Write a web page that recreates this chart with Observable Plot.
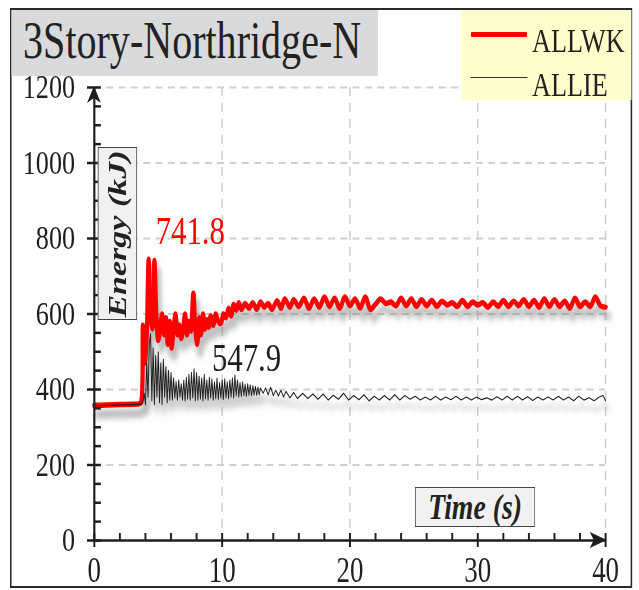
<!DOCTYPE html>
<html><head><meta charset="utf-8">
<script src="https://cdn.jsdelivr.net/npm/d3@7"></script>
<script src="https://cdn.jsdelivr.net/npm/@observablehq/plot@0.6"></script>
<style>
body{margin:0;background:#fff;}
#page{position:relative;width:639px;height:590px;overflow:hidden;background:#fff;}
#wrap{position:absolute;left:0;top:0;width:830px;height:590px;transform:scale(0.77,1);transform-origin:0 0;font-family:"Liberation Serif","Times New Roman",serif;color:#222;}
#chart{position:absolute;left:0;top:0;}
.abs{position:absolute;box-sizing:border-box;}
#frame{left:13px;top:8px;width:808px;height:580px;border:2px solid #2a2a2a;}
#title{left:15px;top:10px;width:476px;height:66px;background:#d9dadc;}
#titletext{position:absolute;left:15px;top:6px;height:50px;font-size:52px;line-height:50px;white-space:nowrap;}
#legend{left:599px;top:10px;width:221px;height:90px;background:#ffffcc;}
.lgline{position:absolute;left:12px;width:74px;}
.lgtext{position:absolute;left:92px;font-size:34px;line-height:34px;white-space:nowrap;}
#ylab{left:127px;top:147px;width:51px;height:173px;background:#f1f1f1;border:1.5px solid #444;}
#ylab span{position:absolute;left:50%;top:50%;transform:translate(-50%,-50%) rotate(-90deg);font-weight:bold;font-style:italic;font-size:34px;white-space:nowrap;}
#xlab{left:539px;top:487px;width:156px;height:40px;background:#f1f1f1;border:1.5px solid #444;font-weight:bold;font-style:italic;font-size:36px;line-height:38px;text-align:center;white-space:nowrap;}
</style></head>
<body>
<div id="page"><div id="wrap">
<div id="chart"></div>
<div class="abs" id="frame"></div>
<div class="abs" id="title"><div id="titletext"></div></div>
<div class="abs" id="legend"></div>
<div class="abs" id="ylab"><span></span></div>
<div class="abs" id="xlab"></div>
</div></div>
<script>
// ---------- data ----------
const titleText = "3Story-Northridge-N";
const seriesNames = ["ALLWK", "ALLIE"];
const xLabel = "Time (s)";
const yLabel = "Energy (kJ)";
const xTicks = [0, 10, 20, 30, 40];
const yTicks = [0, 200, 400, 600, 800, 1000, 1200];
const xMinorStep = 2;
const yMinorStep = 50;

const timeWK = [0,1,2,3,3.5,3.65,3.8,3.95,4.1,4.25,4.4,4.55,4.7,4.85,5.0,5.15,5.3,5.45,5.6,5.75,5.9,6.05,6.2,6.35,6.5,6.65,6.8,6.95,7.1,7.25,7.4,7.55,7.75,7.9,8.05,8.2,8.35,8.5,8.65,8.8,8.95,9.1,9.3,9.5,9.7,9.9,10.1,10.3,10.5,10.7,10.9,11.1,11.3,11.5,11.8,12.1,12.4,12.7,13.0,13.3,13.6,13.9,14.3,14.6,14.9,15.3,15.6,16.0,16.4,16.8,17.2,17.6,18.0,18.4,18.8,19.2,19.6,20.0,20.4,20.8,21.2,21.6,22.0,22.4,22.8,23.2,23.6,24.0,24.4,24.8,25.2,25.6,26.0,26.4,26.8,27.2,27.6,28.0,28.4,28.8,29.2,29.6,30.0,30.4,30.8,31.2,31.6,32.0,32.4,32.8,33.2,33.6,34.0,34.4,34.8,35.2,35.6,36.0,36.4,36.8,37.2,37.6,38.0,38.4,38.8,39.2,39.6,40.0];
const allwk = [358,359,360,361,362,366,570,470,540,745,590,560,741.8,600,530,560,600,545,590,520,580,510,560,600,545,570,535,560,600,545,580,555,655,560,520,590,545,600,560,585,565,595,570,600,580,575,600,590,615,595,625,610,630,612,628,615,630,612,632,618,628,612,635,615,640,618,638,620,642,615,640,618,645,620,642,615,645,622,640,616,645,612,626,640,628,632,622,642,622,640,620,638,622,636,620,634,624,630,620,636,620,632,624,630,618,632,620,636,620,634,622,638,620,636,618,640,620,638,620,634,615,642,620,632,620,645,622,618];

const timeIE = [0,1,2,3,3.5,3.7,3.8,3.9,4.0,4.1,4.2,4.3,4.4,4.5,4.6,4.7,4.8,4.9,5.0,5.1,5.2,5.3,5.4,5.5,5.6,5.7,5.8,5.9,6.0,6.1,6.2,6.3,6.4,6.5,6.6,6.7,6.8,6.9,7.0,7.1,7.2,7.3,7.4,7.5,7.6,7.7,7.8,7.9,8.0,8.1,8.2,8.3,8.4,8.5,8.6,8.7,8.8,8.9,9.0,9.1,9.2,9.3,9.4,9.5,9.6,9.7,9.8,9.9,10.0,10.1,10.2,10.3,10.4,10.5,10.6,10.7,10.8,10.9,11.0,11.1,11.2,11.3,11.4,11.5,11.6,11.7,11.8,11.9,12.0,12.1,12.2,12.3,12.4,12.5,12.6,12.7,12.8,12.9,13.0,13.2,13.4,13.6,13.8,14.0,14.2,14.4,14.6,14.8,15.0,15.3,15.6,15.9,16.3,16.7,17.1,17.5,17.9,18.3,18.7,19.1,19.5,19.9,20.3,20.7,21.1,21.5,21.9,22.3,22.7,23.1,23.5,23.9,24.3,24.7,25.1,25.5,25.9,26.3,26.7,27.1,27.5,27.9,28.3,28.7,29.1,29.5,29.9,30.3,30.7,31.1,31.5,31.9,32.3,32.7,33.1,33.5,33.9,34.3,34.7,35.1,35.5,35.9,36.3,36.7,37.1,37.5,37.9,38.3,38.7,39.1,39.5,39.8,40.0];
const allie = [357,358,359,360,361,362,365,390,360,470,380,520,547.9,370,510,360,490,380,500,365,470,360,480,380,460,365,450,372,445,372,430,378,420,372,425,380,415,372,425,370,432,375,440,372,445,378,455,370,445,372,435,375,430,370,440,376,425,372,432,378,428,372,420,376,430,374,418,378,425,374,428,378,420,376,425,380,430,378,438,384,425,380,418,382,420,384,414,382,415,385,412,384,410,386,408,385,406,386,404,390,404,386,406,384,398,383,398,380,395,378,392,376,390,376,388,374,388,372,385,374,390,372,384,373,386,370,382,372,384,372,386,372,384,374,382,372,380,372,382,372,380,373,382,372,380,372,380,373,378,372,381,372,382,372,382,372,381,371,380,372,380,372,382,372,380,370,382,372,378,370,380,384,370];

const peakT = [4.8, 9.2];
const peakV = [785, 448];
const peakText = ["741.8", "547.9"];

// ---------- build ----------
const wk = timeWK.map((t, i) => ({t, v: allwk[i]}));
const ie = timeIE.map((t, i) => ({t, v: allie[i]}));
const peaks = peakT.map((t, i) => ({t, v: peakV[i], label: peakText[i]}));
const xMinor = d3.range(xTicks[0], xTicks[xTicks.length - 1] + 0.001, xMinorStep);
const yMinor = d3.range(yTicks[0], yTicks[yTicks.length - 1] + 0.001, yMinorStep);

const RED = "#ff0000", INK = "#1e1e1e";
const gridStyle = {stroke: "#cfcfcf", strokeOpacity: 1, strokeWidth: 2, strokeDasharray: "9,7"};

const plot = Plot.plot({
  width: 830, height: 590,
  marginLeft: 122, marginRight: 44, marginTop: 87, marginBottom: 50,
  x: {domain: [0, 40], label: null},
  y: {domain: [0, 1200], label: null},
  style: {fontFamily: '"Liberation Serif","Times New Roman",serif', fontSize: "34px", color: INK, background: "transparent", overflow: "visible"},
  marks: [
    Plot.gridX(xTicks.slice(1), gridStyle),
    Plot.gridY(yTicks.slice(1), gridStyle),
    Plot.line(wk, {x: "t", y: "v", stroke: "#777", strokeWidth: 8, strokeOpacity: 0.45, dx: 4, dy: 9, curve: "catmull-rom"}),
    Plot.line(ie, {x: "t", y: "v", stroke: "#777", strokeWidth: 3, strokeOpacity: 0.35, dx: 4, dy: 9}),
    Plot.line(wk, {x: "t", y: "v", stroke: RED, strokeWidth: 5.5, curve: "catmull-rom", strokeLinejoin: "round"}),
    Plot.line(ie, {x: "t", y: "v", stroke: INK, strokeWidth: 1.2}),
    Plot.text(peaks.filter(d => d.label === peakText[0]), {x: "t", y: "v", text: "label", fill: RED, fontSize: 40, textAnchor: "start", lineAnchor: "bottom"}),
    Plot.text(peaks.filter(d => d.label === peakText[1]), {x: "t", y: "v", text: "label", fill: INK, fontSize: 40, textAnchor: "start", lineAnchor: "bottom"}),
    Plot.ruleY([0], {stroke: INK, strokeWidth: 2.5}),
    Plot.ruleX([0], {stroke: INK, strokeWidth: 2.8}),
    Plot.axisX(xTicks, {tickSize: 7, tickPadding: 10, strokeWidth: 2.5, stroke: INK, fontSize: 35, label: null, tickFormat: d => String(d)}),
    Plot.axisX(xMinor, {tickSize: -7, strokeWidth: 2.5, stroke: INK, label: null, tickFormat: () => ""}),
    Plot.axisY(yTicks, {tickSize: 9, tickPadding: 16, strokeWidth: 2.5, stroke: INK, fontSize: 34, label: null, tickFormat: d => String(d)}),
    Plot.axisY(yMinor, {tickSize: -9, strokeWidth: 2.5, stroke: INK, label: null, tickFormat: () => ""})
  ]
});
document.getElementById("chart").appendChild(plot);

// drop-shadow blur + arrowheads
const svg = d3.select(plot);
const defs = svg.insert("defs", ":first-child");
defs.append("filter").attr("id", "shblur").attr("x", "-10%").attr("y", "-10%").attr("width", "120%").attr("height", "120%")
  .append("feGaussianBlur").attr("stdDeviation", 3);
const lines = plot.querySelectorAll('g[aria-label="line"]');
lines[0].setAttribute("filter", "url(#shblur)");
lines[1].setAttribute("filter", "url(#shblur)");
const sx = plot.scale("x"), sy = plot.scale("y");
const x0 = sx.apply(0), x1 = sx.apply(40), y0 = sy.apply(0), y1 = sy.apply(1200);
svg.append("path").attr("fill", INK)
  .attr("d", `M${x1 + 2},${y0} L${x1 - 20},${y0 - 8} L${x1 - 15},${y0} L${x1 - 20},${y0 + 8} Z`);
svg.append("path").attr("fill", INK)
  .attr("d", `M${x0},${y1 - 1} L${x0 - 9},${y1 + 16} L${x0},${y1 + 11} L${x0 + 9},${y1 + 16} Z`);

// overlays
document.getElementById("titletext").textContent = titleText;
const lg = document.getElementById("legend");
lg.innerHTML = `
  <div class="lgline" style="top:22px;border-top:5px solid ${RED};border-radius:2px"></div>
  <div class="lgtext" style="top:14px">${seriesNames[0]}</div>
  <div class="lgline" style="top:67px;border-top:1.3px solid #333"></div>
  <div class="lgtext" style="top:58px">${seriesNames[1]}</div>`;
document.querySelector("#ylab span").textContent = yLabel;
document.getElementById("xlab").textContent = xLabel;
</script>
</body></html>
